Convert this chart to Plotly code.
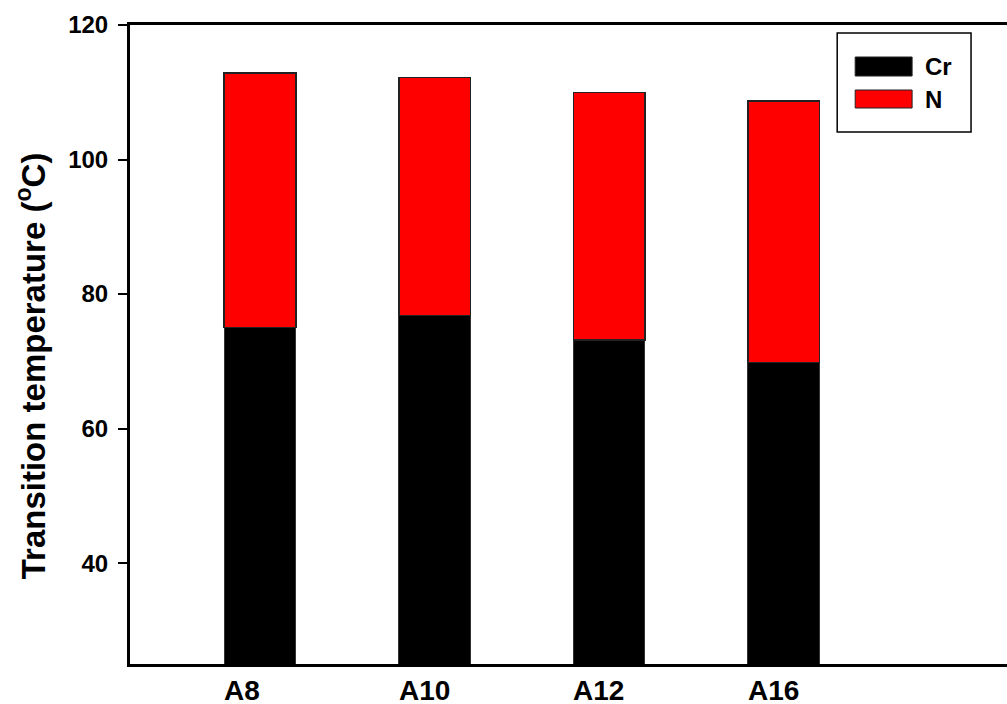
import plotly.graph_objects as go

# Sample series and transition temperatures (°C)
samples = ["A8", "A10", "A12", "A16"]
cr_temp = [75.0, 76.8, 73.2, 69.8]          # Cr transition (bottom segment top)
total_temp = [112.9, 112.2, 110.0, 108.7]   # N transition (top of stacked bar)
n_segment = [t - c for t, c in zip(total_temp, cr_temp)]

y_ticks = [40, 60, 80, 100, 120]

FONT = "Liberation Sans, Arial, sans-serif"
BAR_W = 0.41

fig = go.Figure()
fig.add_trace(go.Bar(
    x=samples, y=cr_temp, name="Cr", width=BAR_W,
    marker=dict(color="#000000", line=dict(color="#333333", width=1)),
    showlegend=False,
))
fig.add_trace(go.Bar(
    x=samples, y=n_segment, name="N", width=BAR_W,
    marker=dict(color="#ff0000", line=dict(color="#222222", width=1.5)),
    showlegend=False,
))

# Category labels, left-aligned with each bar's left edge
for i, s in enumerate(samples):
    fig.add_annotation(
        x=i - BAR_W / 2, xref="x", y=-0.042, yref="paper",
        text=s, showarrow=False, xanchor="left", yanchor="middle",
        xshift=-2,
        font=dict(family=FONT, size=28, color="black", weight="bold"),
    )

# Y-axis title
fig.add_annotation(
    x=-0.1128, xref="paper", y=0.466, yref="paper",
    text="Transition temperature (<sup>o</sup>C)", textangle=-90,
    showarrow=False, xanchor="center", yanchor="middle",
    font=dict(family=FONT, size=33, color="black", weight="bold"),
)

# Legend box with wide swatches
def px_x(p):
    return (p - 129) / 878

def px_y(p):
    return (664 - p) / 639

fig.add_shape(type="rect", xref="paper", yref="paper",
              x0=px_x(837), x1=px_x(971), y0=px_y(132), y1=px_y(33),
              line=dict(color="black", width=1.5), fillcolor="white")
legend_items = [("Cr", "#000000", 57, 76), ("N", "#ff0000", 90, 108)]
for name, color, top, bot in legend_items:
    fig.add_shape(type="rect", xref="paper", yref="paper",
                  x0=px_x(855), x1=px_x(912), y0=px_y(bot), y1=px_y(top),
                  line=dict(color="#222222", width=1), fillcolor=color)
    fig.add_annotation(x=px_x(923), xref="paper", y=px_y((top + bot) / 2), yref="paper",
                       text=name, showarrow=False, xanchor="left", yanchor="middle",
                       font=dict(family=FONT, size=24, color="black", weight="bold"))

fig.update_layout(
    width=1007, height=704,
    margin=dict(l=130, r=0, t=25, b=40),
    barmode="stack",
    plot_bgcolor="white", paper_bgcolor="white",
    font=dict(family=FONT, color="black"),
    xaxis=dict(
        type="category", range=[-0.745, 4.28],
        showticklabels=False, ticks="",
        showline=True, linecolor="black", linewidth=3, mirror=True,
        showgrid=False, zeroline=False,
    ),
    yaxis=dict(
        range=[25, 120], tickvals=y_ticks,
        ticks="outside", ticklen=9, tickwidth=2, tickcolor="black",
        ticklabelstandoff=5,
        tickfont=dict(family=FONT, size=24, color="black", weight="bold"),
        showline=True, linecolor="black", linewidth=3,
        showgrid=False, zeroline=False,
    ),
)

fig.write_html("out.html")
